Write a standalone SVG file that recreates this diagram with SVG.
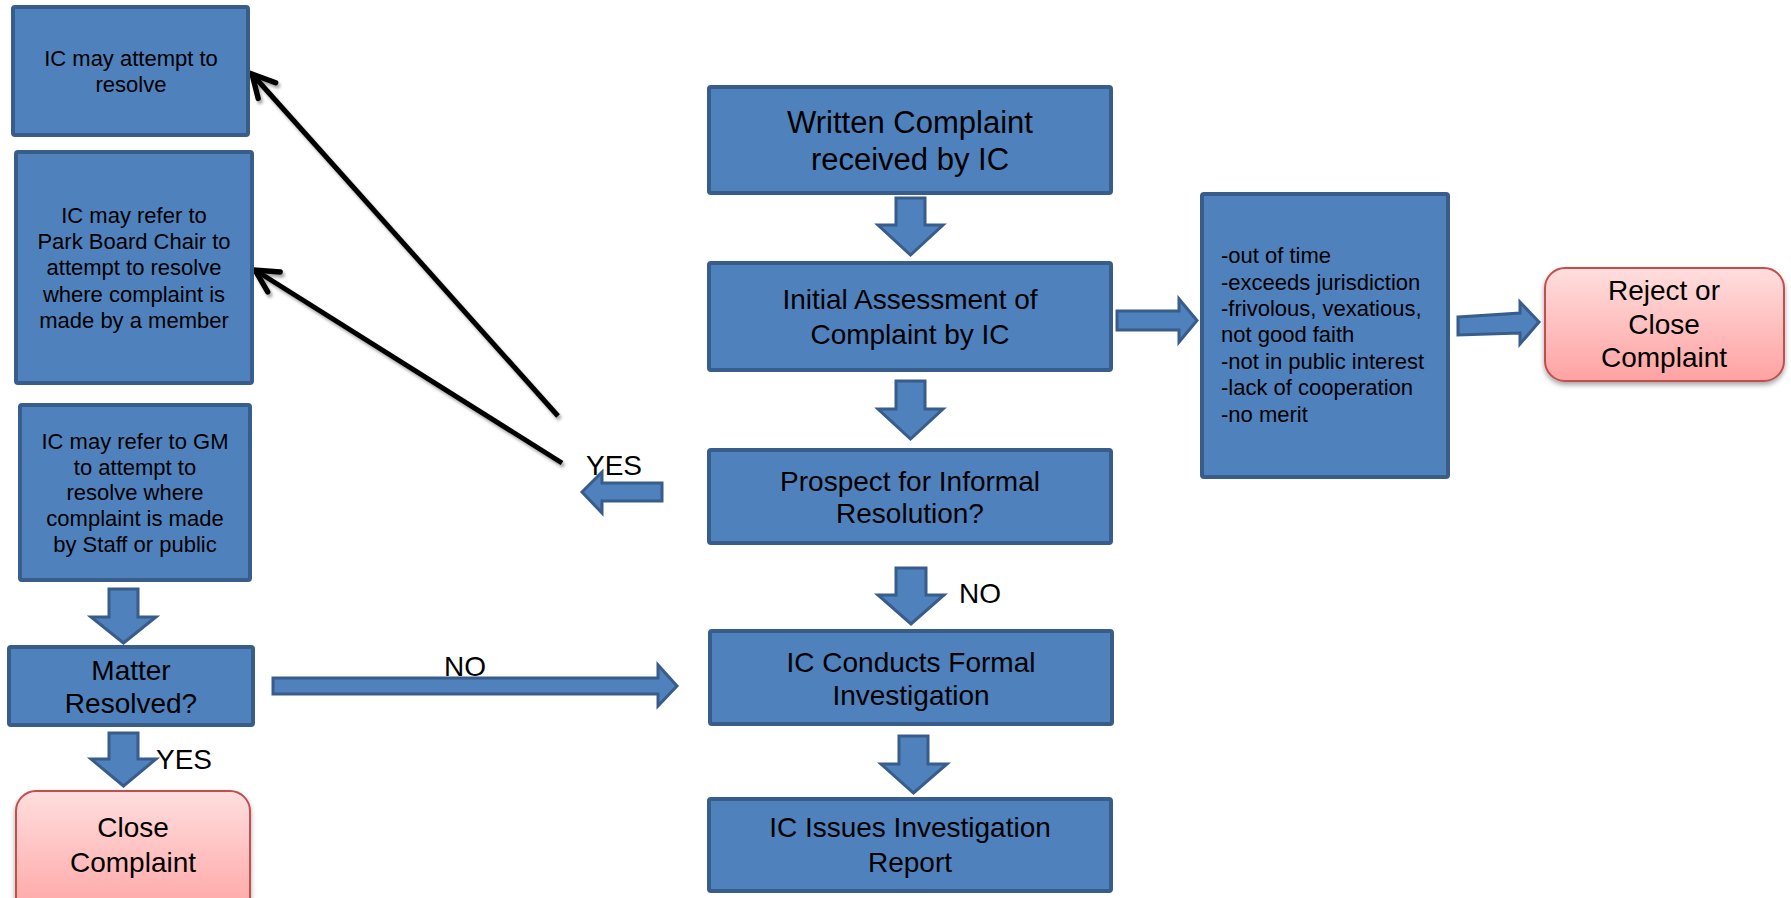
<svg xmlns="http://www.w3.org/2000/svg" width="1791" height="898" viewBox="0 0 1791 898">
<defs>
<style>
.box{fill:#4F81BD;stroke:#385D8A;stroke-width:4}
.end{fill:url(#pink);stroke:#C0504D;stroke-width:2;filter:url(#sh)}
.blk{fill:#4F81BD;stroke:#385D8A;stroke-width:3}
.t{font-family:"Liberation Sans",Arial,sans-serif;fill:#000;text-anchor:middle}
.s{font-size:22px}
.m{font-size:28px}
.l{font-family:"Liberation Sans",Arial,sans-serif;fill:#000;font-size:22px}
.lbl{font-family:"Liberation Sans",Arial,sans-serif;fill:#000;font-size:28px}
.ln{stroke:#000;stroke-width:5;fill:none;marker-end:url(#open);filter:url(#lsh)}
</style>
<linearGradient id="pink" x1="0" y1="0" x2="0" y2="1">
<stop offset="0" stop-color="#FFDEDE"/>
<stop offset="1" stop-color="#FFA2A2"/>
</linearGradient>
<filter id="sh" x="-10%" y="-10%" width="120%" height="130%">
<feDropShadow dx="0" dy="3" stdDeviation="2.5" flood-color="#000" flood-opacity="0.35"/>
</filter>
<filter id="lsh" x="-10%" y="-10%" width="120%" height="120%">
<feDropShadow dx="2" dy="3" stdDeviation="1.8" flood-color="#000" flood-opacity="0.35"/>
</filter>
<marker id="open" markerUnits="userSpaceOnUse" markerWidth="32" markerHeight="32" viewBox="-25 -15 30 30" refX="0" refY="0" orient="auto">
<path d="M-21,-11 L0,0 L-21,11" fill="none" stroke="#000" stroke-width="5" stroke-linecap="round" stroke-linejoin="miter"/>
</marker>
</defs>

<g id="connectors">
<path class="blk" d="M896,198 H925 V225 H943 L910.5,255 L878,225 H896 Z"/>
<path class="blk" d="M896,381 H925 V409 H943 L910.5,439 L878,409 H896 Z"/>
<path class="blk" d="M896,568 H926 V595 H944 L911,624 L878,595 H896 Z"/>
<path class="blk" d="M899,736 H928 V764 H947 L913.5,793 L881,764 H899 Z"/>
<path class="blk" d="M109,589 H138 V617 H156 L123.5,643 L91,617 H109 Z"/>
<path class="blk" d="M109,733 H138 V759 H156 L123.5,786 L91,759 H109 Z"/>
<path class="blk" d="M1117,311 H1179 V299 L1197,320.5 L1179,342 V330 H1117 Z"/>
<path class="blk" d="M1458,317 L1520,313 V302 L1539,322 L1520,344 V333 L1458,335 Z"/>
<path class="blk" d="M582,492 L602,472 V483 H662 V501 H602 V513 Z"/>
<path class="blk" d="M273,678 H658 V665 L677,686 L658,706 V694 H273 Z"/>
<line class="ln" x1="558" y1="416" x2="252" y2="74"/>
<line class="ln" x1="562" y1="463" x2="255" y2="270"/>
<line class="ln" x1="561" y1="486" x2="278" y2="486"/>
<text class="lbl" x="586" y="475">YES</text>
<text class="lbl" x="959" y="603">NO</text>
<text class="lbl" x="444" y="676">NO</text>
<text class="lbl" x="156" y="769">YES</text>
</g>

<g id="n-attempt">
<rect class="box" x="13" y="7" width="235" height="128" rx="2"/>
<text class="t s" x="131" y="66">IC may attempt to</text>
<text class="t s" x="131" y="92">resolve</text>
</g>

<g id="n-parkboard">
<rect class="box" x="16" y="152" width="236" height="231" rx="2"/>
<text class="t s" x="134" y="223">IC may refer to</text>
<text class="t s" x="134" y="249">Park Board Chair to</text>
<text class="t s" x="134" y="275">attempt to resolve</text>
<text class="t s" x="134" y="302">where complaint is</text>
<text class="t s" x="134" y="328">made by a member</text>
</g>

<g id="n-gm">
<rect class="box" x="20" y="405" width="230" height="175" rx="2"/>
<text class="t s" x="135" y="449">IC may refer to GM</text>
<text class="t s" x="135" y="475">to attempt to</text>
<text class="t s" x="135" y="500">resolve where</text>
<text class="t s" x="135" y="526">complaint is made</text>
<text class="t s" x="135" y="552">by Staff or public</text>
</g>

<g id="n-matter">
<rect class="box" x="9" y="647" width="244" height="78" rx="2"/>
<text class="t m" x="131" y="680">Matter</text>
<text class="t m" x="131" y="713">Resolved?</text>
</g>

<g id="n-close">
<rect class="end" x="16" y="791" width="234" height="130" rx="20"/>
<text class="t m" x="133" y="837">Close</text>
<text class="t m" x="133" y="872">Complaint</text>
</g>

<g id="n-written">
<rect class="box" x="709" y="87" width="402" height="106" rx="2"/>
<text class="t" style="font-size:31px" x="910" y="133">Written Complaint</text>
<text class="t" style="font-size:31px" x="910" y="170">received by IC</text>
</g>

<g id="n-initial">
<rect class="box" x="709" y="263" width="402" height="107" rx="2"/>
<text class="t m" x="910" y="309">Initial Assessment of</text>
<text class="t m" x="910" y="344">Complaint by IC</text>
</g>

<g id="n-prospect">
<rect class="box" x="709" y="450" width="402" height="93" rx="2"/>
<text class="t m" x="910" y="491">Prospect for Informal</text>
<text class="t m" x="910" y="523">Resolution?</text>
</g>

<g id="n-formal">
<rect class="box" x="710" y="631" width="402" height="93" rx="2"/>
<text class="t m" x="911" y="672">IC Conducts Formal</text>
<text class="t m" x="911" y="705">Investigation</text>
</g>

<g id="n-report">
<rect class="box" x="709" y="799" width="402" height="92" rx="2"/>
<text class="t m" x="910" y="837">IC Issues Investigation</text>
<text class="t m" x="910" y="872">Report</text>
</g>

<g id="n-reasons">
<rect class="box" x="1202" y="194" width="246" height="283" rx="2"/>
<text class="l" x="1221" y="263">-out of time</text>
<text class="l" x="1221" y="290">-exceeds jurisdiction</text>
<text class="l" x="1221" y="316">-frivolous, vexatious,</text>
<text class="l" x="1221" y="342">not good faith</text>
<text class="l" x="1221" y="369">-not in public interest</text>
<text class="l" x="1221" y="395">-lack of cooperation</text>
<text class="l" x="1221" y="422">-no merit</text>
</g>

<g id="n-reject">
<rect class="end" x="1545" y="268" width="239" height="113" rx="20"/>
<text class="t m" x="1664" y="300">Reject or</text>
<text class="t m" x="1664" y="334">Close</text>
<text class="t m" x="1664" y="367">Complaint</text>
</g>
</svg>
